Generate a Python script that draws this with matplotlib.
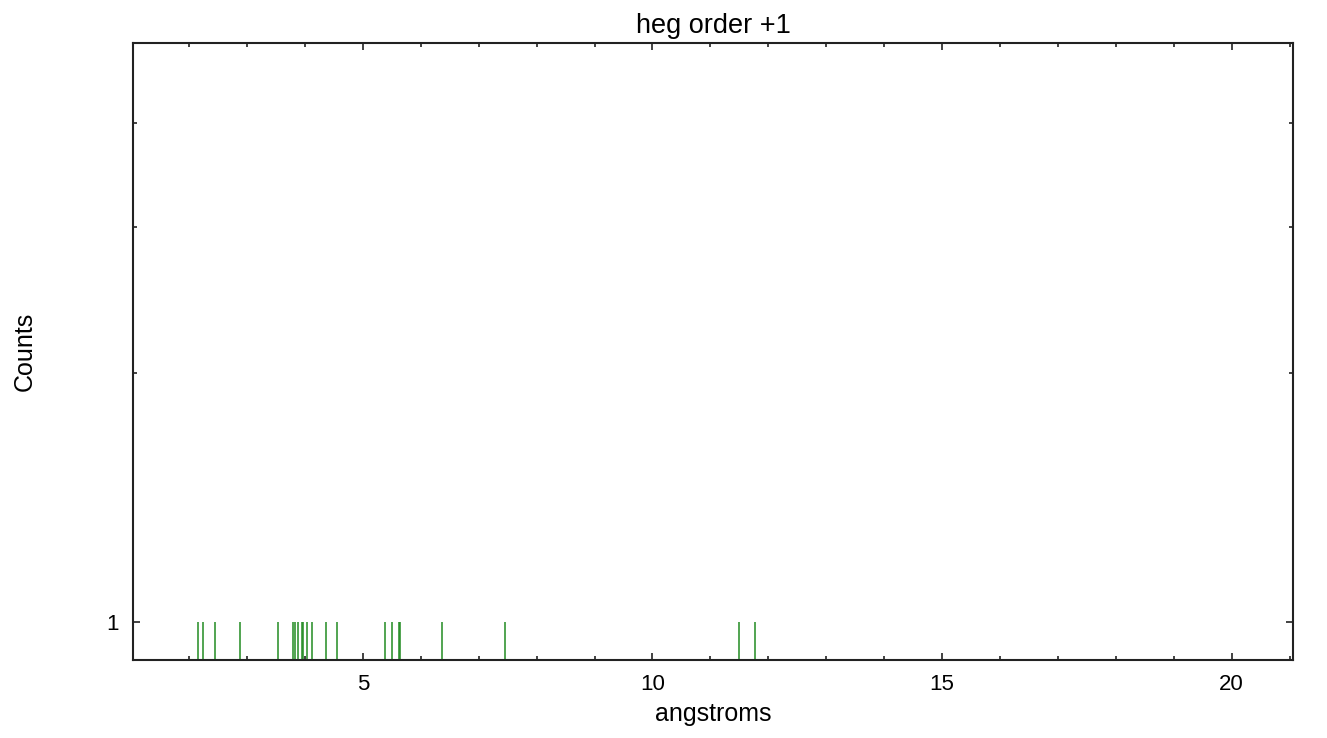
import numpy as np
import matplotlib
matplotlib.use("Agg")
import matplotlib.pyplot as plt
from matplotlib.ticker import FixedLocator, NullFormatter, MultipleLocator

plt.rcParams['font.family'] = ['Liberation Sans', 'DejaVu Sans']

# event wavelengths (angstroms), each bin holds one count
wavelengths = [2.155, 2.242, 2.444, 2.881, 3.528, 3.796, 3.822, 3.877,
               3.952, 3.969, 4.033, 4.119, 4.366, 4.556, 5.385, 5.506,
               5.615, 5.635, 6.370, 7.458, 11.494, 11.770]
counts = [1] * len(wavelengths)

title = "heg order +1"
xlabel = "angstroms"
ylabel = "Counts"

fig = plt.figure(figsize=(13.27, 7.38), dpi=100)
ax = fig.add_axes([0.1002, 0.1057, 0.8742, 0.836])

ymin = 0.9
ax.vlines(wavelengths, ymin, counts, color='#228b22', lw=1.1)

ax.set_yscale('log')
ax.set_ylim(ymin, 5.0)
ax.set_xlim(1.03, 21.06)

ax.xaxis.set_major_locator(FixedLocator([5, 10, 15, 20]))
ax.xaxis.set_minor_locator(MultipleLocator(1))
ax.yaxis.set_major_locator(FixedLocator([1]))
ax.yaxis.set_minor_locator(FixedLocator([2, 3, 4]))
ax.yaxis.set_minor_formatter(NullFormatter())
ax.set_yticklabels(['1'])

ax.tick_params(which='both', direction='in', top=True, right=True,
               labelsize=16, width=1.2, color='#222222')
ax.tick_params(which='major', length=5, pad=10)
ax.tick_params(which='minor', length=2.6)
for s in ax.spines.values():
    s.set_linewidth(1.5)
    s.set_color('#222222')

ax.set_title(title, fontsize=19.5, pad=7)
ax.set_xlabel(xlabel, fontsize=18, labelpad=5)
ax.set_ylabel(ylabel, fontsize=18)
ax.yaxis.set_label_coords(-0.083, 0.5)

fig.savefig("out.png", dpi=100)
